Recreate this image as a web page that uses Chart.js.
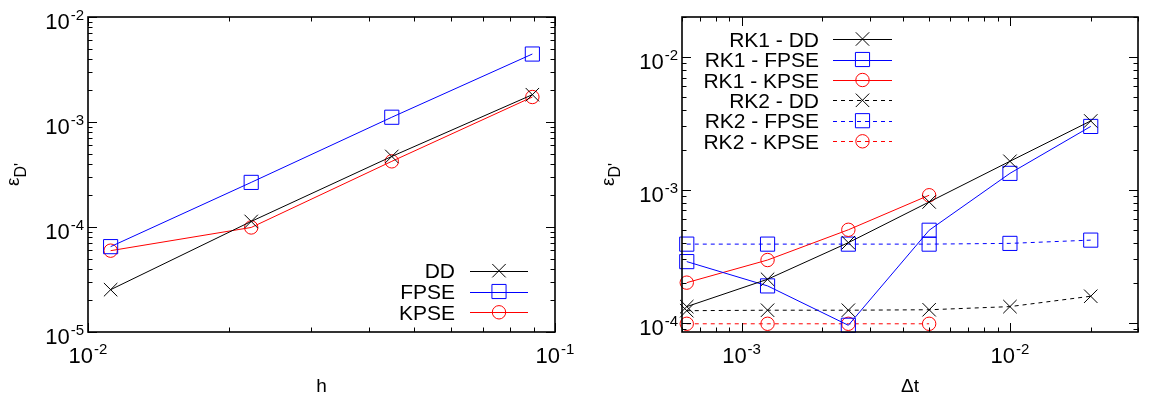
<!DOCTYPE html>
<html><head><meta charset="utf-8">
<script src="https://cdn.jsdelivr.net/npm/chart.js@4.4.1/dist/chart.umd.min.js"></script>
<style>
html,body{margin:0;padding:0;background:#fff;overflow:hidden;}
#wrap{position:relative;width:1149px;height:398px;}
.box{position:absolute;left:0;top:0;width:1149px;height:398px;}
</style></head><body>
<div id="wrap">
<div class="box"><canvas id="c1"></canvas></div>
<div class="box"><canvas id="c2"></canvas></div>
</div>
<script>
// ---------- data (left panel: error vs h) ----------
const hValues  = [0.01118, 0.02236, 0.04472, 0.08944];
const errDD    = [2.53e-5, 1.13e-4, 4.70e-4, 1.82e-3];
const errFPSE  = [6.5e-5, 2.66e-4, 1.11e-3, 4.44e-3];
const errKPSE  = [5.95e-5, 9.9e-5, 4.22e-4, 1.73e-3];
const leftLabels = ['DD', 'FPSE', 'KPSE'];

// ---------- data (right panel: error vs dt) ----------
const dtValues = [0.000625, 0.00125, 0.0025, 0.005, 0.01, 0.02];
const rk1DD    = [1.32e-4, 2.12e-4, 4.0e-4, 8.1e-4, 1.64e-3, 3.3e-3];
const rk1FPSE  = [2.88e-4, 1.89e-4, 9.55e-5, 4.96e-4, 1.33e-3, 3.0e-3];
const rk1KPSE  = [2.0e-4, 2.96e-4, 5.0e-4, 9.1e-4];
const rk2DD    = [1.23e-4, 1.24e-4, 1.24e-4, 1.25e-4, 1.32e-4, 1.58e-4];
const rk2FPSE  = [3.9e-4, 3.9e-4, 3.9e-4, 3.9e-4, 3.95e-4, 4.18e-4];
const rk2KPSE  = [9.8e-5, 9.8e-5, 9.8e-5, 9.8e-5];
const rightLabels = ['RK1 - DD', 'RK1 - FPSE', 'RK1 - KPSE', 'RK2 - DD', 'RK2 - FPSE', 'RK2 - KPSE'];

// ---------- tick labels ----------
const leftXTicks  = [1e-2, 1e-1];
const leftXTickExp = ['-2', '-1'];
const leftYTicks  = [1e-5, 1e-4, 1e-3, 1e-2];
const leftYTickExp = ['-5', '-4', '-3', '-2'];
const rightXTicks = [1e-3, 1e-2];
const rightXTickExp = ['-3', '-2'];
const rightYTicks = [1e-4, 1e-3, 1e-2];
const rightYTickExp = ['-4', '-3', '-2'];

const FONT = '"Liberation Sans", Arial, Helvetica, sans-serif';
const BLACK = '#000000', BLUE = '#0000ff', RED = '#ff0000';

function pts(xs, ys){ return ys.map((y,i)=>({x:xs[i], y:y})); }

const styleFor = {
  DD:   {color: BLACK, pointStyle: 'crossRot', pointRadius: 9.5},
  FPSE: {color: BLUE,  pointStyle: 'rect',     pointRadius: 10},
  KPSE: {color: RED,   pointStyle: 'circle',   pointRadius: 6.7}
};
function ds(label, kind, data, dashed){
  const s = styleFor[kind];
  return {
    label: label, data: data, kind: kind,
    borderColor: s.color, backgroundColor: 'transparent',
    borderWidth: 1, borderDash: dashed ? [4,4] : [],
    pointStyle: s.pointStyle, pointRadius: s.pointRadius, pointHoverRadius: s.pointRadius,
    pointBorderColor: s.color, pointBackgroundColor: 'rgba(0,0,0,0)', pointBorderWidth: 1,
    tension: 0, clip: false, fill: false
  };
}

function drawMarker(ctx, kind, x, y){
  const s = styleFor[kind];
  ctx.save();
  ctx.strokeStyle = s.color; ctx.lineWidth = 1; ctx.setLineDash([]);
  ctx.beginPath();
  if (kind === 'DD') {
    const h = s.pointRadius * Math.SQRT1_2;
    ctx.moveTo(x-h, y-h); ctx.lineTo(x+h, y+h);
    ctx.moveTo(x-h, y+h); ctx.lineTo(x+h, y-h);
  } else if (kind === 'FPSE') {
    const h = s.pointRadius * Math.SQRT1_2;
    ctx.rect(x-h, y-h, 2*h, 2*h);
  } else {
    ctx.arc(x, y, s.pointRadius, 0, Math.PI*2);
  }
  ctx.stroke();
  ctx.restore();
}

function drawPow(ctx, x, baseline, exp, align){
  ctx.save();
  ctx.fillStyle = BLACK; ctx.textAlign = 'left'; ctx.textBaseline = 'alphabetic';
  ctx.font = '22px ' + FONT;
  const w1 = ctx.measureText('10').width;
  ctx.font = '15px ' + FONT;
  const w2 = ctx.measureText(exp).width + 1;
  const total = w1 + w2;
  const start = align === 'right' ? x - total : x - total/2;
  ctx.font = '22px ' + FONT;
  ctx.fillText('10', start, baseline);
  ctx.font = '15px ' + FONT;
  ctx.fillText(exp, start + w1 + 1, baseline - 9);
  ctx.restore();
}

function minorValues(min, max){
  const out = [];
  for (let d = Math.floor(Math.log10(min)) ; d <= Math.ceil(Math.log10(max)); d++) {
    for (let k = 2; k <= 9; k++) {
      const v = k * Math.pow(10, d);
      if (v >= min*0.9999 && v <= max*1.0001) out.push(v);
    }
  }
  return out;
}

const gnuFrame = {
  id: 'gnuFrame',
  afterDatasetsDraw(chart, args, o){
    const ctx = chart.ctx, a = chart.chartArea;
    const xs = chart.scales.x, ys = chart.scales.y;
    ctx.save();
    ctx.strokeStyle = BLACK; ctx.lineWidth = 1; ctx.setLineDash([]);
    const MAJ = 9, MIN = 4.5;
    ctx.beginPath();
    o.xTicks.forEach(v => {
      const px = Math.round(xs.getPixelForValue(v)) + 0.5;
      ctx.moveTo(px, a.bottom); ctx.lineTo(px, a.bottom - MAJ);
      ctx.moveTo(px, a.top); ctx.lineTo(px, a.top + MAJ);
    });
    minorValues(xs.min, xs.max).forEach(v => {
      const px = Math.round(xs.getPixelForValue(v)) + 0.5;
      ctx.moveTo(px, a.bottom); ctx.lineTo(px, a.bottom - MIN);
      ctx.moveTo(px, a.top); ctx.lineTo(px, a.top + MIN);
    });
    o.yTicks.forEach(v => {
      const py = Math.round(ys.getPixelForValue(v)) + 0.5;
      ctx.moveTo(a.left, py); ctx.lineTo(a.left + MAJ, py);
      ctx.moveTo(a.right, py); ctx.lineTo(a.right - MAJ, py);
    });
    minorValues(ys.min, ys.max).forEach(v => {
      const py = Math.round(ys.getPixelForValue(v)) + 0.5;
      ctx.moveTo(a.left, py); ctx.lineTo(a.left + MIN, py);
      ctx.moveTo(a.right, py); ctx.lineTo(a.right - MIN, py);
    });
    ctx.stroke();
    ctx.lineWidth = 1.6;
    ctx.strokeRect(a.left, a.top, a.right - a.left, a.bottom - a.top);
    ctx.restore();

    // tick labels
    o.xTicks.forEach((v,i) => drawPow(ctx, xs.getPixelForValue(v), a.bottom + 31, o.xExp[i], 'center'));
    o.yTicks.forEach((v,i) => drawPow(ctx, a.left - 4, ys.getPixelForValue(v) + 12, o.yExp[i], 'right'));

    // x axis title
    ctx.save();
    ctx.fillStyle = BLACK; ctx.font = '19px ' + FONT; ctx.textAlign = 'center'; ctx.textBaseline = 'alphabetic';
    ctx.fillText(o.xTitle, (a.left + a.right)/2, 391.5);
    ctx.restore();

    // y axis title: epsilon with subscript D'
    ctx.save();
    ctx.fillStyle = BLACK; ctx.textBaseline = 'alphabetic'; ctx.textAlign = 'left';
    ctx.font = '19px ' + FONT;
    const we = ctx.measureText('\u03B5').width;
    ctx.font = '16px ' + FONT;
    const wd = ctx.measureText("D'").width;
    const total = we + wd;
    const yc = (a.top + a.bottom)/2;
    ctx.translate(o.yTitleX, yc + total/2);
    ctx.rotate(-Math.PI/2);
    ctx.font = '19px ' + FONT;
    ctx.fillText('\u03B5', 0, 0);
    ctx.font = '16px ' + FONT;
    ctx.fillText("D'", we, 6.5);
    ctx.restore();

    // legend (gnuplot style: right-aligned text, sample line with marker)
    ctx.save();
    chart.data.datasets.forEach((d, i) => {
      const cy = o.legend.rows[i];
      ctx.fillStyle = BLACK; ctx.font = '21px ' + FONT; ctx.textAlign = 'right'; ctx.textBaseline = 'alphabetic';
      ctx.fillText(d.label, o.legend.textRight, cy + 7.5);
      ctx.strokeStyle = d.borderColor; ctx.lineWidth = 1;
      ctx.setLineDash(d.borderDash || []);
      ctx.beginPath();
      ctx.moveTo(o.legend.x1, Math.round(cy) + 0.5); ctx.lineTo(o.legend.x2, Math.round(cy) + 0.5);
      ctx.stroke();
      ctx.setLineDash([]);
      drawMarker(ctx, d.kind, o.legend.mx, cy);
    });
    ctx.restore();
  }
};

function makeChart(id, datasets, scales, padding, frameOpts){
  return new Chart(document.getElementById(id), {
    type: 'line',
    data: { datasets: datasets },
    options: {
      responsive: true, maintainAspectRatio: false, animation: false, events: [],
      layout: { padding: padding },
      plugins: { legend: {display: false}, tooltip: {enabled: false}, gnuFrame: frameOpts },
      scales: {
        x: { type: 'logarithmic', min: scales.xmin, max: scales.xmax, display: false },
        y: { type: 'logarithmic', min: scales.ymin, max: scales.ymax, display: false }
      }
    },
    plugins: [gnuFrame]
  });
}

makeChart('c1', [
  ds(leftLabels[0], 'DD',   pts(hValues, errDD),   false),
  ds(leftLabels[1], 'FPSE', pts(hValues, errFPSE), false),
  ds(leftLabels[2], 'KPSE', pts(hValues, errKPSE), false)
], {xmin: 1e-2, xmax: 1e-1, ymin: 1e-5, ymax: 1e-2},
{left: 88, right: 594, top: 17, bottom: 66},
{ xTicks: leftXTicks, xExp: leftXTickExp, yTicks: leftYTicks, yExp: leftYTickExp,
  xTitle: 'h', yTitleX: 19,
  legend: {textRight: 455, x1: 470, x2: 528, mx: 499, rows: [270.7, 291.5, 312.3]} });

makeChart('c2', [
  ds(rightLabels[0], 'DD',   pts(dtValues, rk1DD),   false),
  ds(rightLabels[1], 'FPSE', pts(dtValues, rk1FPSE), false),
  ds(rightLabels[2], 'KPSE', pts(dtValues, rk1KPSE), false),
  ds(rightLabels[3], 'DD',   pts(dtValues, rk2DD),   true),
  ds(rightLabels[4], 'FPSE', pts(dtValues, rk2FPSE), true),
  ds(rightLabels[5], 'KPSE', pts(dtValues, rk2KPSE), true)
], {xmin: 6e-4, xmax: 3e-2, ymin: 8.5e-5, ymax: 2e-2},
{left: 682, right: 1.5, top: 17, bottom: 66},
{ xTicks: rightXTicks, xExp: rightXTickExp, yTicks: rightYTicks, yExp: rightYTickExp,
  xTitle: '\u0394t', yTitleX: 613.5,
  legend: {textRight: 819, x1: 833, x2: 892, mx: 862.5, rows: [39, 59.5, 80, 100.3, 120.7, 141.3]} });
</script>
</body></html>
